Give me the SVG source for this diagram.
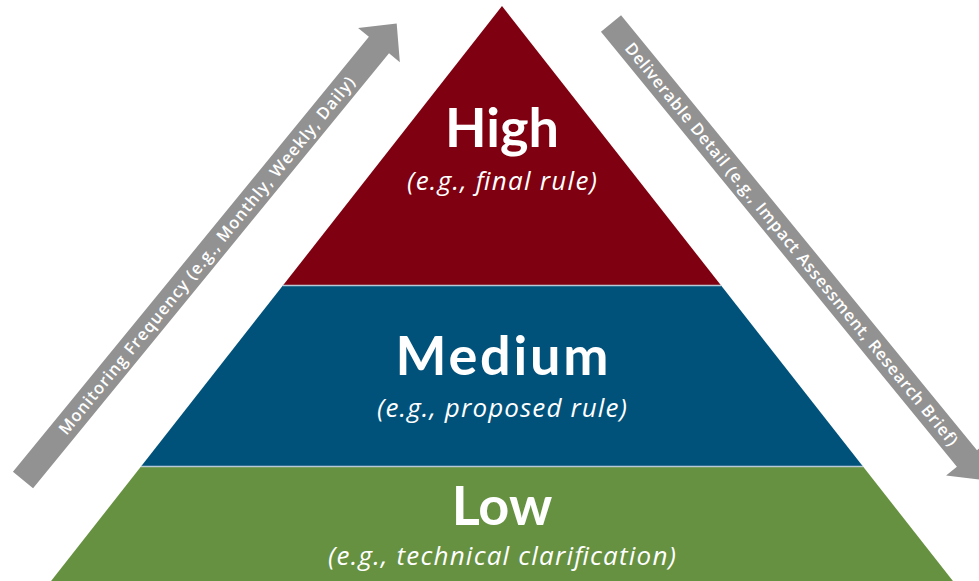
<svg xmlns="http://www.w3.org/2000/svg" width="979" height="581" viewBox="0 0 979 581">
  <style>
    .title { font-family: Lato, "Liberation Sans", sans-serif; font-weight: 700; font-size: 54px; fill: #ffffff; text-anchor: middle; }
    .sub { font-family: "Open Sans", "Liberation Sans", sans-serif; font-style: italic; font-size: 26px; fill: #ffffff; text-anchor: middle; }
    .axis-label { font-family: "Open Sans", "Liberation Sans", sans-serif; font-weight: 600; font-size: 16.5px; fill: #ffffff; text-anchor: middle; }
    .axis { fill: #929292; }
    .sep { stroke: #b7c9d6; stroke-width: 1.3; }
  </style>
  <defs>
    <!-- block arrow drawn along +x, tail centre at the origin -->
    <path id="block-arrow" d="M0,-13 L562,-13 L562,-27 L590,0 L562,27 L562,13 L0,13 Z"/>
  </defs>

  <rect width="979" height="581" fill="#ffffff"/>

  <!-- pyramid tiers -->
  <g id="tier-high">
    <polygon points="502,6 721.1,285.5 282.9,285.5" fill="#7f0010"/>
    <text class="title" x="502" y="147">High</text>
    <text class="sub" x="502" y="190" textLength="190">(e.g., final rule)</text>
  </g>
  <g id="tier-medium">
    <polygon points="282.9,285.5 721.1,285.5 863,466.5 141,466.5" fill="#00527a"/>
    <text class="title" x="502" y="375" textLength="213">Medium</text>
    <text class="sub" x="502" y="417" textLength="250">(e.g., proposed rule)</text>
  </g>
  <g id="tier-low">
    <polygon points="141,466.5 863,466.5 960,590 44,590" fill="#669140"/>
    <text class="title" x="502" y="525">Low</text>
    <text class="sub" x="502" y="565" textLength="348">(e.g., technical clarification)</text>
  </g>
  <g id="tier-separators">
    <line class="sep" x1="282.9" y1="285.5" x2="721.1" y2="285.5"/>
    <line class="sep" x1="141" y1="466.5" x2="863" y2="466.5"/>
  </g>

  <!-- side axes -->
  <g id="connectors">
    <g id="axis-frequency" transform="translate(23,480) rotate(-50.7)">
      <use href="#block-arrow" class="axis"/>
      <text class="axis-label" x="290" y="5.8" textLength="457">Monitoring Frequency (e.g., Monthly, Weekly, Daily)</text>
    </g>
    <g id="axis-detail" transform="translate(611,23.5) rotate(50.7)">
      <use href="#block-arrow" class="axis"/>
      <text class="axis-label" x="285" y="5.8" textLength="515">Deliverable Detail (e.g., Impact Assessment, Research Brief)</text>
    </g>
  </g>
</svg>
